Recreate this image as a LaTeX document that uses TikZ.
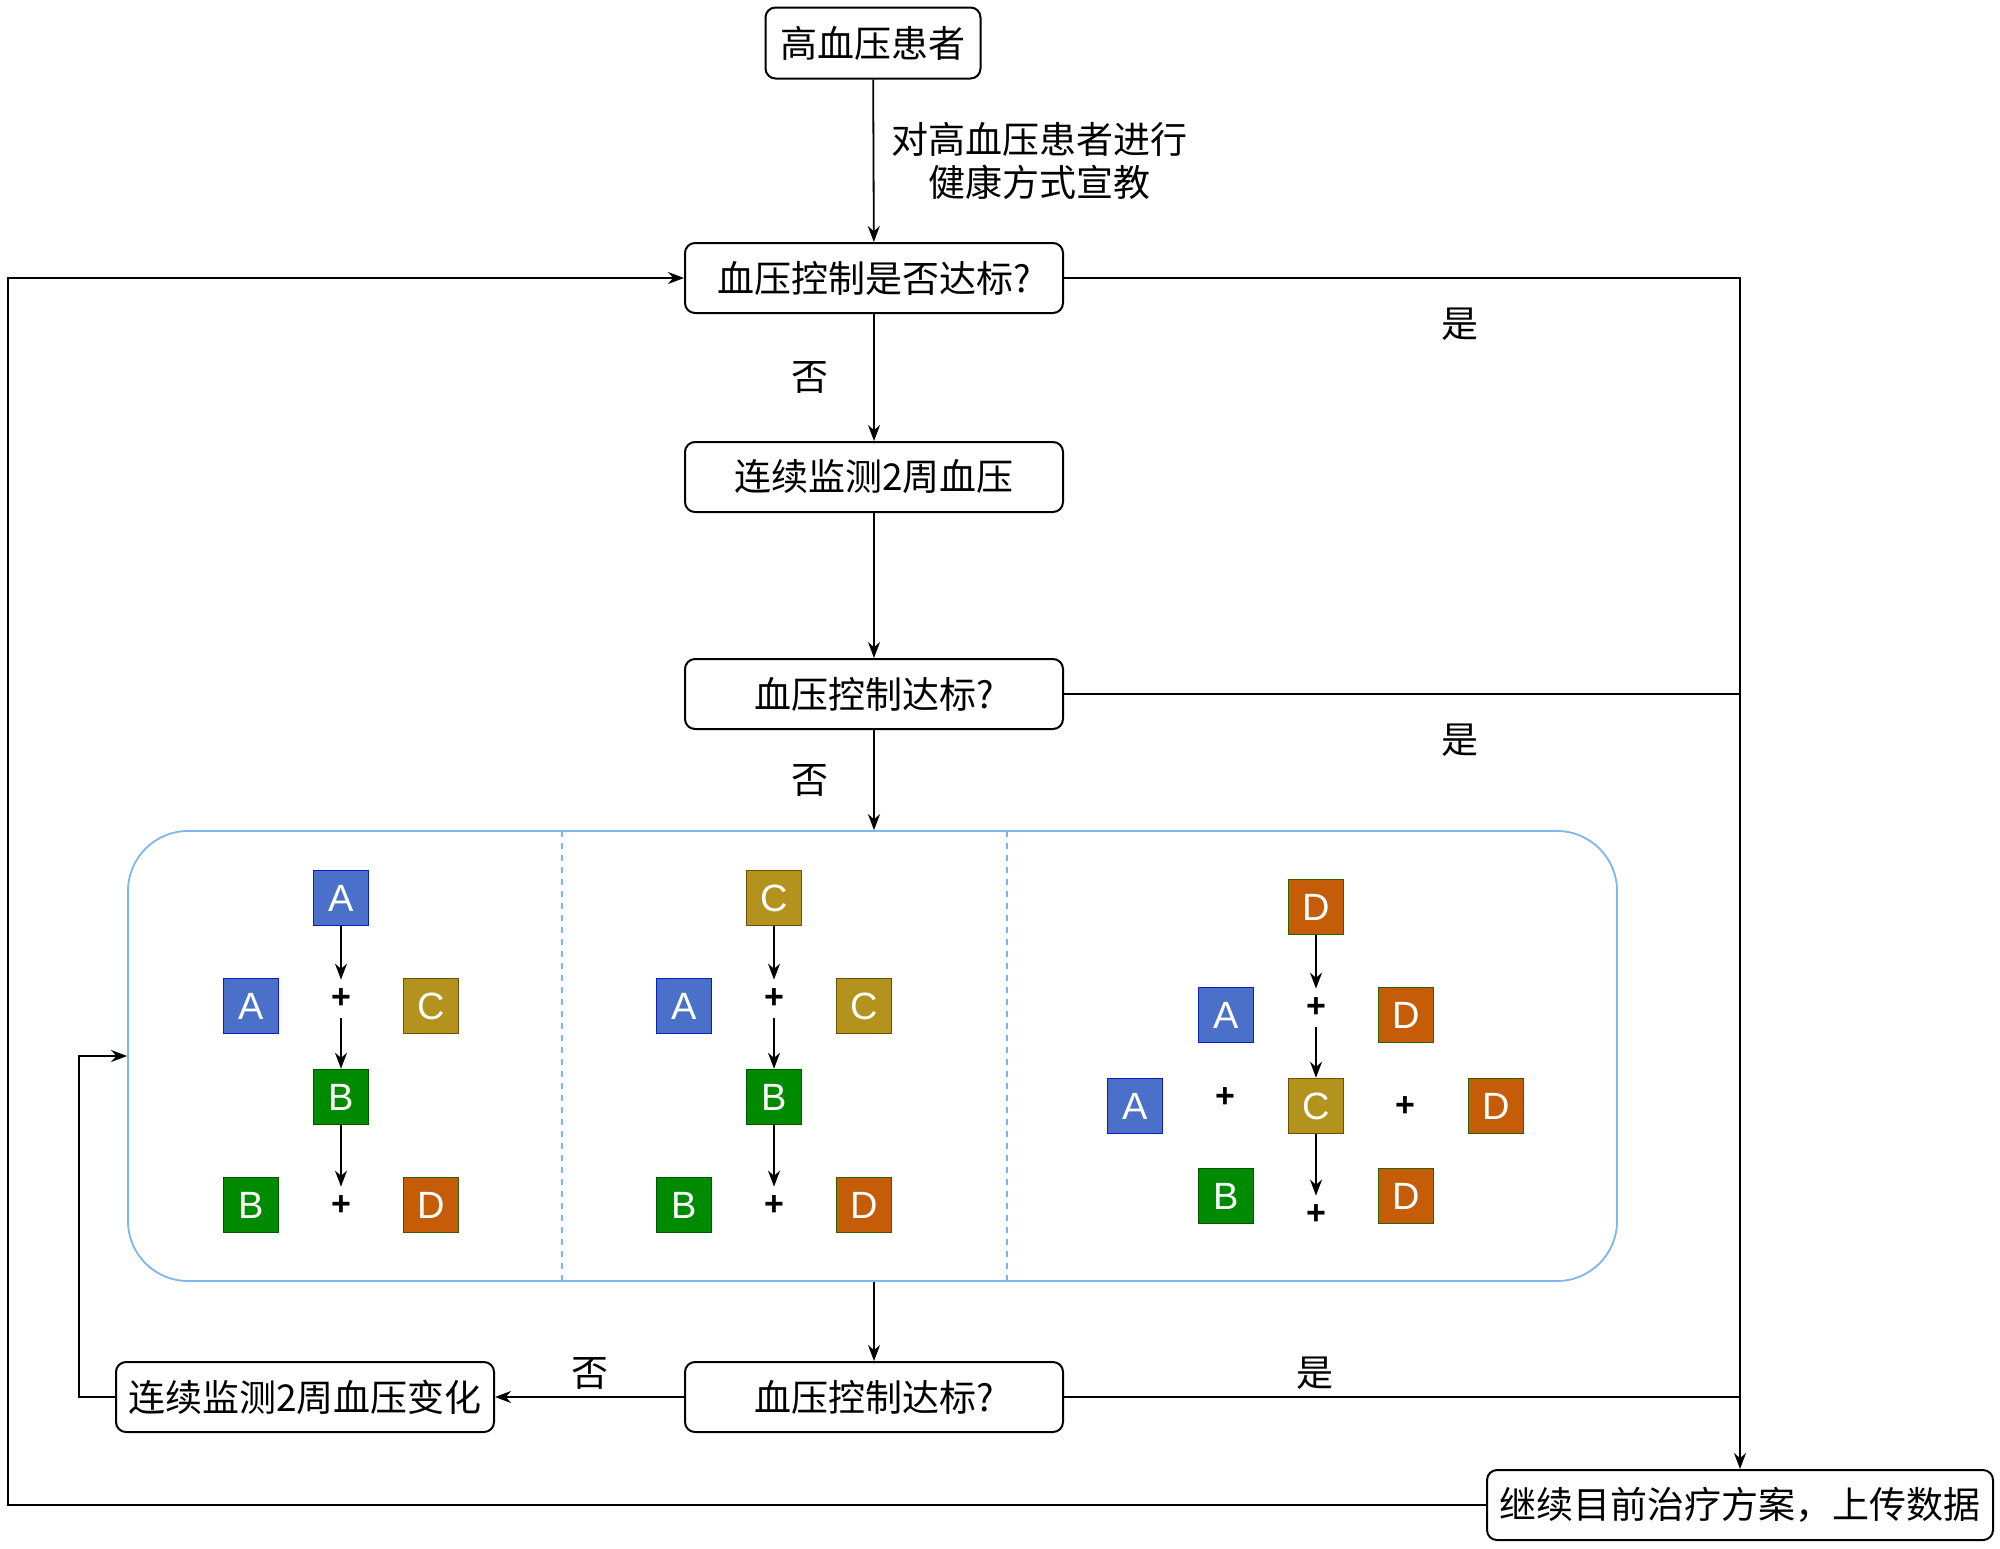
\documentclass[tikz,border=0pt]{standalone}
\usepackage{fontspec}
\setmainfont{Liberation Sans}
\newfontfamily\cjk{Noto Sans CJK SC}
\usetikzlibrary{arrows.meta,positioning}

\definecolor{drugA}{HTML}{4A70C9}
\definecolor{drugAline}{HTML}{0A1FB8}
\definecolor{drugB}{HTML}{008A00}
\definecolor{drugBline}{HTML}{005700}
\definecolor{drugC}{HTML}{B3921E}
\definecolor{drugCline}{HTML}{6D5100}
\definecolor{drugD}{HTML}{C45C08}
\definecolor{drugDline}{HTML}{2D6000}
\definecolor{panel}{HTML}{7DB5EE}

\tikzset{
  stepbox/.style={draw, rounded corners=5pt, line width=1pt, minimum width=189pt,
    minimum height=35pt, inner sep=0pt, font=\cjk\fontsize{18.5}{22}\selectfont},
  drug/.style={draw, line width=0.8pt, minimum size=27.5pt, inner sep=0pt, text=white,
    font=\fontsize{19}{22}\selectfont},
  da/.style={drug, fill=drugA, draw=drugAline},
  db/.style={drug, fill=drugB, draw=drugBline},
  dc/.style={drug, fill=drugC, draw=drugCline},
  dd/.style={drug, fill=drugD, draw=drugDline},
  plus/.style={minimum size=19pt, inner sep=0pt, font=\bfseries\fontsize{17}{17}\selectfont},
  lbl/.style={font=\cjk\fontsize{18.5}{21.5}\selectfont, align=center},
  flow/.style={-{Stealth[length=8pt,width=6pt]}, line width=0.9pt},
  line/.style={line width=0.9pt},
}

\begin{document}
\begin{tikzpicture}[x=0.5pt,y=-0.5pt]
\useasboundingbox (0,0) rectangle (2000,1548);

% main flow
\node[stepbox, minimum width=107.5pt, minimum height=35.5pt] (start) at (873,43) {高血压患者};
\node[stepbox] (q1) at (874,278) {血压控制是否达标?};
\node[stepbox] (mon) at (874,477) {连续监测2周血压};
\node[stepbox] (q2) at (874,694) {血压控制达标?};
\node[stepbox] (q3) at (874,1397) {血压控制达标?};
\node[stepbox] (lft) at (305,1397) {连续监测2周血压变化};
\node[stepbox, minimum width=253pt] (end) at (1740,1505) {继续目前治疗方案，上传数据};

% treatment panel
\node[draw=panel, line width=0.9pt, rounded corners=30pt, minimum width=744.5pt,
  minimum height=225pt] (box) at (872.5,1056) {};
\draw[panel, dashed, line width=0.8pt] (562,831) -- (562,1281);
\draw[panel, dashed, line width=0.8pt] (1007,831) -- (1007,1281);

% panels 1 and 2
\foreach \s/\cx/\ts/\tl in {p/341/da/A, q/774/dc/C} {
  \node[\ts] (\s top) at (\cx,898) {\tl};
  \node[plus] (\s pa) at (\cx,999) {+};
  \node[da] (\s l1) at (\cx-90,1006) {A};
  \node[dc] (\s r1) at (\cx+90,1006) {C};
  \node[db] (\s mid) at (\cx,1097) {B};
  \node[db] (\s l2) at (\cx-90,1205) {B};
  \node[plus] (\s pb) at (\cx,1206) {+};
  \node[dd] (\s r2) at (\cx+90,1205) {D};
  \draw[flow] (\s top) -- (\s pa);
  \draw[flow] (\s pa) -- (\s mid);
  \draw[flow] (\s mid) -- (\s pb);
}

% panel 3
\node[dd] (rtop) at (1316,907) {D};
\node[plus] (rpa) at (1316,1008) {+};
\node[da] (rl1) at (1226,1015) {A};
\node[dd] (rr1) at (1406,1015) {D};
\node[da] (rl2) at (1135,1106) {A};
\node[plus] (rpl) at (1225,1098) {+};
\node[dc] (rmid) at (1316,1106) {C};
\node[plus] (rpr) at (1405,1107) {+};
\node[dd] (rr2) at (1496,1106) {D};
\node[db] (rl3) at (1226,1196) {B};
\node[plus] (rpb) at (1316,1215) {+};
\node[dd] (rr3) at (1406,1196) {D};
\draw[flow] (rtop) -- (rpa);
\draw[flow] (rpa) -- (rmid);
\draw[flow] (rmid) -- (rpb);

% connectors
\draw[flow] (start) -- node[midway, right=5pt, lbl] {对高血压患者进行\\健康方式宣教} (q1);
\draw[flow] (q1) -- node[midway, left=19pt, lbl] {否} (mon);
\draw[flow] (mon) -- (q2);
\draw[flow] (q2) -- node[midway, left=19pt, lbl] {否} (q2 |- box.north);
\draw[flow] (box.south -| q3) -- (q3);
\draw[flow] (q1.east) -| node[pos=0.293, below=11pt, lbl] {是} (end.north);
\draw[line] (q2.east) -- node[pos=0.586, below=11pt, lbl] {是} (q2.east -| end.north);
\draw[line] (q3.east) -- node[pos=0.372, above=0pt, lbl] {是} (q3.east -| end.north);
\draw[flow] (q3.west) -- node[midway, above=0pt, lbl] {否} (lft.east);
\draw[flow] (lft.west) -- ++(-18pt,0) |- (box.west);
\coordinate (back) at (8,1505);
\draw[flow] (end.west) -- (back) |- (q1.west);
\end{tikzpicture}
\end{document}
